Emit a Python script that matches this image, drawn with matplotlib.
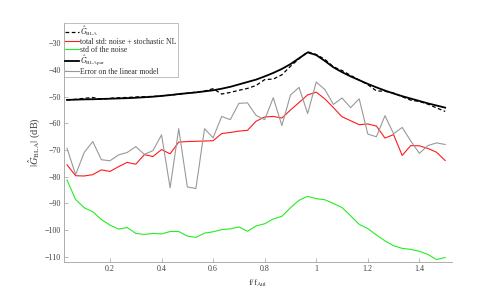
import matplotlib
matplotlib.use("Agg")
import matplotlib.pyplot as plt

plt.rcParams['font.family'] = ['Liberation Serif', 'DejaVu Serif']
plt.rcParams['mathtext.fontset'] = 'stix'

freq = [0.0333, 0.0667, 0.1, 0.1333, 0.1667, 0.2, 0.2333, 0.2667, 0.3, 0.3333,
        0.3667, 0.4, 0.4333, 0.4667, 0.5, 0.5333, 0.5667, 0.6, 0.6333, 0.6667,
        0.7, 0.7333, 0.7667, 0.8, 0.8333, 0.8667, 0.9, 0.9333, 0.9667, 1.0,
        1.0333, 1.0667, 1.1, 1.1333, 1.1667, 1.2, 1.2333, 1.2667, 1.3, 1.3333,
        1.3667, 1.4, 1.4333, 1.4667, 1.5]

g_bla = [-51.2, -51.0, -50.6, -50.3, -51.0, -50.6, -50.4, -50.3, -50.1, -50.0,
         -49.9, -49.7, -49.4, -49.1, -48.7, -48.3, -47.9, -47.0, -49.0, -48.4,
         -47.6, -46.9, -45.8, -43.6, -43.4, -41.8, -38.6, -35.8, -33.2, -34.2,
         -36.0, -38.8, -40.2, -42.0, -43.8, -45.5, -47.8, -48.0, -48.6, -50.0,
         -51.3, -51.8, -52.8, -54.2, -55.5]

g_blapar = [-51.2, -51.1, -51.0, -50.95, -50.85, -50.75, -50.65, -50.55, -50.4, -50.2,
            -50.0, -49.7, -49.4, -49.0, -48.7, -48.4, -48.0, -47.6, -47.0, -46.3,
            -45.4, -44.5, -43.6, -42.4, -41.1, -39.6, -37.8, -35.6, -33.4, -34.4,
            -36.6, -39.0, -40.8, -42.4, -43.8, -45.2, -46.5, -47.7, -48.8, -49.8,
            -50.7, -51.6, -52.5, -53.3, -54.1]

std_total = [-75.5, -79.6, -79.7, -79.2, -77.4, -78.0, -76.2, -74.6, -75.3, -71.7,
             -72.4, -69.8, -71.4, -67.0, -66.8, -66.7, -66.6, -66.5, -63.8, -63.4,
             -62.9, -62.6, -59.2, -57.6, -57.4, -58.0, -55.0, -52.2, -49.3, -48.3,
             -50.8, -54.1, -57.5, -59.0, -60.5, -60.2, -61.0, -65.5, -64.2, -72.0,
             -68.3, -68.4, -69.4, -70.8, -73.9]

std_noise = [-81.2, -88.5, -91.6, -93.1, -96.0, -98.1, -99.6, -99.0, -101.2, -101.6,
             -101.2, -101.4, -100.5, -100.5, -102.2, -102.7, -101.1, -100.6, -99.8, -99.5,
             -98.8, -100.4, -98.4, -97.6, -95.8, -94.8, -91.6, -88.8, -87.3, -88.2,
             -88.6, -90.0, -91.5, -94.6, -97.8, -99.4, -101.8, -104.0, -105.8, -106.8,
             -107.2, -107.9, -109.1, -111.0, -110.2]

err_lin = [-69.3, -79.2, -70.9, -66.8, -73.6, -74.0, -71.8, -70.9, -68.7, -71.6,
           -70.2, -64.3, -84.1, -62.0, -83.8, -84.4, -62.0, -65.4, -57.4, -58.6,
           -52.5, -52.3, -57.0, -58.6, -50.4, -60.8, -49.4, -46.5, -56.3, -44.5,
           -47.3, -52.9, -50.5, -54.1, -50.8, -64.0, -65.0, -57.1, -63.9, -61.5,
           -66.6, -71.2, -68.3, -67.3, -67.9]

fig = plt.figure(figsize=(5.0, 2.95), dpi=100)
ax = fig.add_axes([0.128, 0.112, 0.776, 0.810])

ax.plot(freq, g_bla, color='black', lw=0.9, ls=(0, (3, 2)), label=r'$\hat{G}_{\mathrm{BLA}}$')
ax.plot(freq, std_total, color='#ff1a1a', lw=0.8, label='total std: noise + stochastic NL')
ax.plot(freq, std_noise, color='#22ee22', lw=0.8, label='std of the noise')
ax.plot(freq, g_blapar, color='black', lw=1.3, label=r'$\hat{G}_{\mathrm{BLApar}}$')
ax.plot(freq, err_lin, color='#999999', lw=0.8, label='Error on the linear model')

ax.set_xlim(0.0217, 1.5266)
ax.set_ylim(-111.9, -22.4)
ax.set_xticks([0.2, 0.4, 0.6, 0.8, 1.0, 1.2, 1.4])
ax.set_xticklabels(['0.2', '0.4', '0.6', '0.8', '1', '1.2', '1.4'])
ax.set_yticks([-110, -100, -90, -80, -70, -60, -50, -40, -30])

for s in ['top', 'right']:
    ax.spines[s].set_visible(False)
for s in ['left', 'bottom']:
    ax.spines[s].set_color('#a0a0a0')
    ax.spines[s].set_linewidth(0.6)
ax.tick_params(direction='in', length=3, width=0.5, color='#a0a0a0',
               labelsize=5.8, labelcolor='#404040', pad=2.5)

ax.set_xlabel(r'f/f$_{\mathrm{Aut}}$', fontsize=6.2, color='#404040', labelpad=3)
ax.set_ylabel(r'$|\hat{G}_{\mathrm{BLA}}|$ (dB)', fontsize=7.5, color='#404040', labelpad=2)

leg = ax.legend(loc='upper left', bbox_to_anchor=(0.0, 1.0), borderaxespad=0.0,
                fontsize=5.6, frameon=True, fancybox=False, handlelength=1.8,
                handletextpad=0.2, borderpad=0.12, labelspacing=0.0)
leg.get_frame().set_edgecolor('#a0a0a0')
leg.get_frame().set_linewidth(0.6)
for t in leg.get_texts():
    t.set_color('#303030')

fig.savefig('out.png', dpi=100)
